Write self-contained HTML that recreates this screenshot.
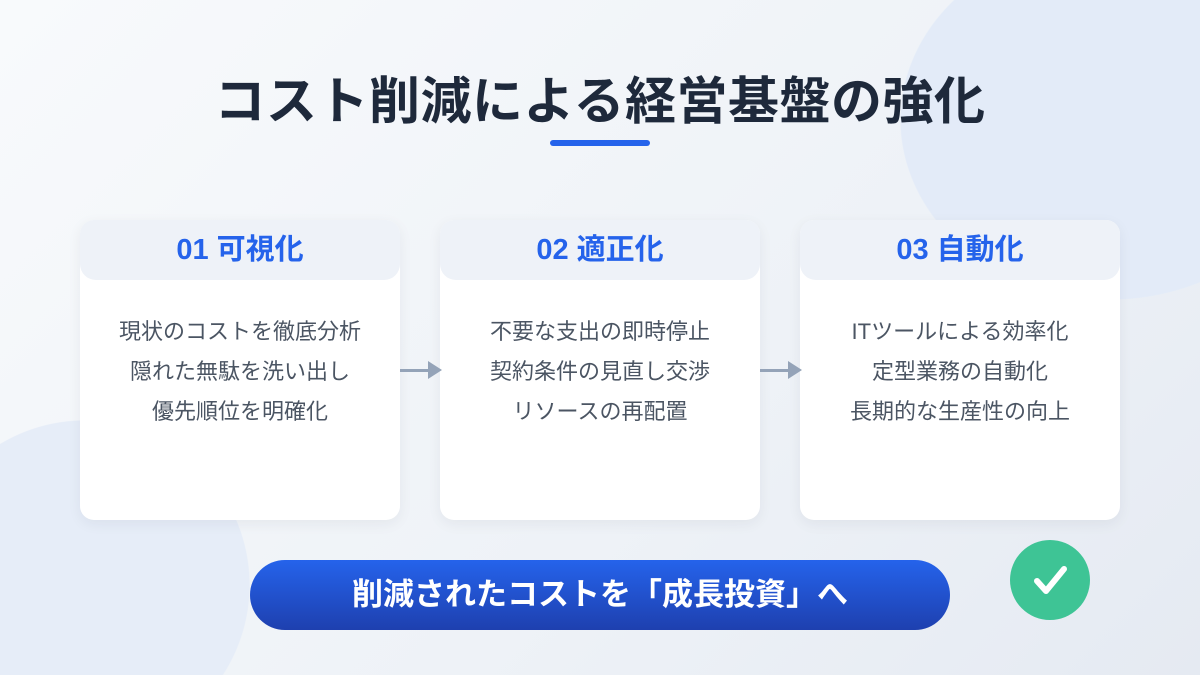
<!DOCTYPE html>
<html><head><meta charset="utf-8"><style>
*{margin:0;padding:0;box-sizing:border-box}
html,body{width:1200px;height:675px;overflow:hidden}
#w{position:absolute;left:0;top:0;width:1200px;height:675px;overflow:hidden;font-family:"Liberation Sans","Noto Sans CJK JP",sans-serif;
background:
radial-gradient(ellipse 210px 180px at 1110px 120px,#e3ebf8 99.5%,transparent 100%),
radial-gradient(circle 165px at 85px 585px,#e6edf8 99.5%,transparent 100%),
linear-gradient(135deg,#f8fafc 0%,#eef2f7 60%,#e5eaf2 100%)}
h1{position:absolute;left:0;width:1200px;top:69px;text-align:center;font-size:51px;line-height:66px;font-weight:bold;color:#1e293b;letter-spacing:0.5px}
.ul{position:absolute;left:550px;top:140px;width:100px;height:6px;border-radius:3px;background:#2563eb}
.card{position:absolute;top:220px;width:320px;height:300px;background:#fff;border-radius:14px;box-shadow:0 4px 14px rgba(30,41,59,.06);overflow:hidden}
.hd{height:60px;background:#eef2f8;border-radius:0 0 16px 16px;text-align:center;line-height:60px;font-size:29px;font-weight:bold;color:#2563eb}
.bd{text-align:center;font-size:22px;color:#4b5563;line-height:40px;padding-top:92px;position:absolute;top:0;left:0;width:100%}
.ar{position:absolute;top:369px;height:3px;width:30px;background:#94a3b8}
.ah{position:absolute;top:361px;width:0;height:0;border-left:14px solid #94a3b8;border-top:9px solid transparent;border-bottom:9px solid transparent}
.btn{position:absolute;left:250px;top:560px;width:700px;height:70px;border-radius:35px;background:linear-gradient(180deg,#2563eb,#1e40af);color:#fff;font-size:31px;font-weight:bold;text-align:center;line-height:70px}
.ck{position:absolute;left:1010px;top:540px;width:80px;height:80px;border-radius:50%;background:#3ec495}
</style></head><body><div id="w">
<h1>コスト削減による経営基盤の強化</h1>
<div class="ul"></div>
<div class="card" style="left:80px"><div class="hd">01 可視化</div><div class="bd">現状のコストを徹底分析<br>隠れた無駄を洗い出し<br>優先順位を明確化</div></div>
<div class="card" style="left:440px"><div class="hd">02 適正化</div><div class="bd">不要な支出の即時停止<br>契約条件の見直し交渉<br>リソースの再配置</div></div>
<div class="card" style="left:800px"><div class="hd">03 自動化</div><div class="bd">ITツールによる効率化<br>定型業務の自動化<br>長期的な生産性の向上</div></div>
<div class="ar" style="left:400px"></div><div class="ah" style="left:428px"></div>
<div class="ar" style="left:760px"></div><div class="ah" style="left:788px"></div>
<div class="btn">削減されたコストを「成長投資」へ</div>
<div class="ck"><svg width="80" height="80" viewBox="0 0 80 80"><path d="M27 41 L36 51 L54 29" fill="none" stroke="#fff" stroke-width="6" stroke-linecap="round" stroke-linejoin="round"/></svg></div>
</div></body></html>
